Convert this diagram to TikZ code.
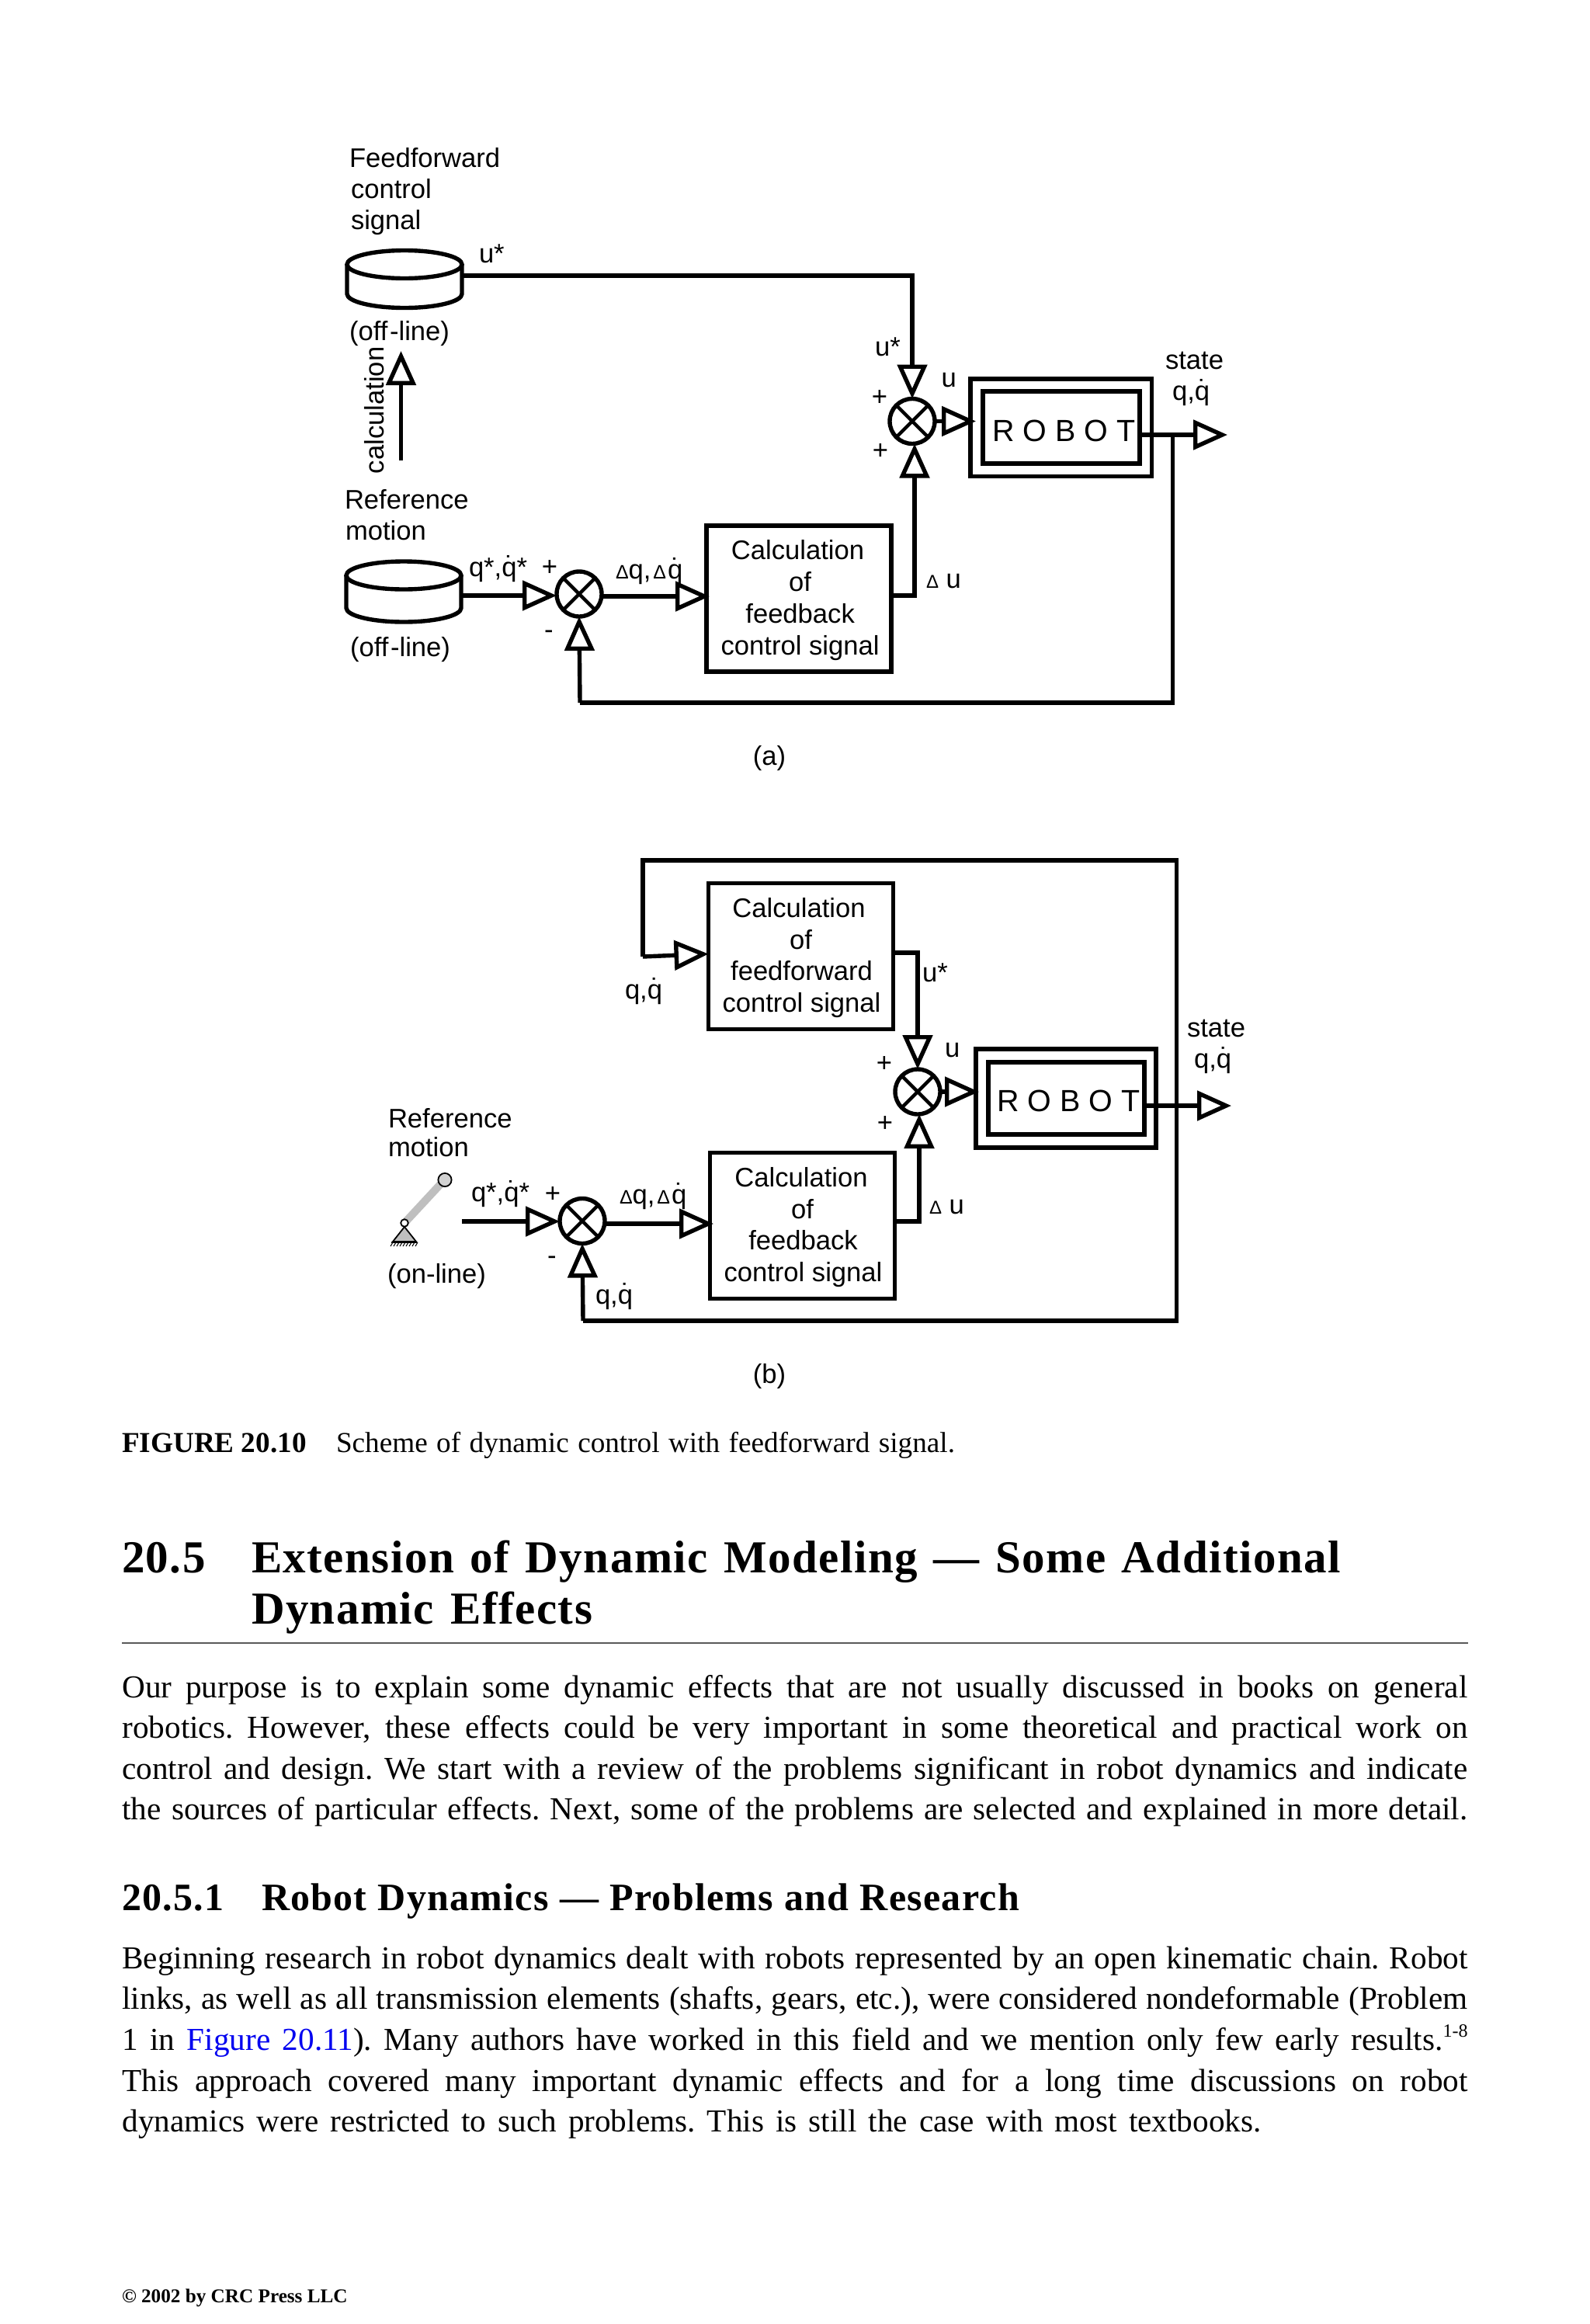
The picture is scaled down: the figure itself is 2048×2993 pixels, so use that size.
\documentclass[tikz,border=0pt]{standalone}
\usepackage{fontspec}
\setmainfont{Liberation Serif}
\setsansfont{Liberation Sans}
\newfontfamily\headfont[LetterSpace=2.5]{Liberation Serif}
\usetikzlibrary{arrows.meta}
\definecolor{linkblue}{RGB}{0,0,240}
\definecolor{mechgray}{gray}{0.75}
\newcommand\fitline[2]{\hbox to #1{\frenchspacing\spaceskip=.25em plus 1em minus .2em\relax #2}}
\newcommand\dq{\makebox[0pt][l]{\hspace{.12em}\raisebox{.03em}{˙}}q}
\newcommand\sdelta{{\fontsize{12.5pt}{12.5pt}\selectfont Δ}}
\newcommand\offl{(off\kern.08em-line)}
\newcommand\boxstrut{\rule{0pt}{.84em}}
\newcommand\cyl[5]{% cx, top y, bottom y (px), rx, ry (pt)
  \draw[wire,fill=white] (#1,#2) ellipse[x radius=#4pt,y radius=#5pt];
  \draw[wire] ([xshift=-#4pt]#1,#2) -- ([xshift=-#4pt]#1,#3) arc[start angle=180,end angle=360,x radius=#4pt,y radius=#5pt] -- ([xshift=#4pt]#1,#2);}
\newcommand\sumcross[1]{\draw[wire,line width=2.2pt] (#1.north east) -- (#1.south west) (#1.north west) -- (#1.south east);}
\tikzset{
  wire/.style={line width=2.7pt,line join=miter},
  tri/.style={wire,-{Triangle[fill=white,length=22pt,width=19pt,line width=2.7pt]}},
  sumj/.style={circle,draw,line width=2.7pt,minimum size=29pt,inner sep=0pt,outer sep=0pt,fill=white},
  blockbox/.style={draw,line width=2.7pt,inner sep=0pt,outer sep=0pt,minimum width=119pt,minimum height=94pt,align=center,font=\sffamily\fontsize{17.3pt}{20.4pt}\selectfont},
  robotouter/.style={draw,line width=2.7pt,inner sep=0pt,outer sep=0pt},
  robotinner/.style={draw,line width=2.8pt,inner sep=0pt,outer sep=0pt},
  robottext/.style={inner sep=0pt,anchor=base,font=\sffamily\fontsize{19.7pt}{22pt}\selectfont},
  lab/.style={inner sep=0pt,outer sep=0pt,anchor=base west,font=\sffamily\fontsize{17.3pt}{20pt}\selectfont},
  sgn/.style={inner sep=0pt,outer sep=0pt,anchor=center,font=\sffamily\fontsize{17.3pt}{20pt}\selectfont},
  bodyline/.style={inner sep=0pt,outer sep=0pt,anchor=base west,font=\rmfamily\fontsize{20.6pt}{26pt}\selectfont},
  caplabel/.style={inner sep=0pt,outer sep=0pt,anchor=base west,font=\rmfamily\bfseries\fontsize{18.6pt}{22pt}\selectfont},
  captext/.style={inner sep=0pt,outer sep=0pt,anchor=base west,font=\rmfamily\fontsize{18.6pt}{22pt}\selectfont},
  headline/.style={inner sep=0pt,outer sep=0pt,anchor=base west,font=\headfont\bfseries\fontsize{29.5pt}{33pt}\selectfont},
  subline/.style={inner sep=0pt,outer sep=0pt,anchor=base west,font=\headfont\bfseries\fontsize{25pt}{28pt}\selectfont},
  foot/.style={inner sep=0pt,outer sep=0pt,anchor=base west,font=\rmfamily\bfseries\fontsize{12.6pt}{15pt}\selectfont},
}
\begin{document}
\begin{tikzpicture}[x=0.5pt,y=-0.5pt]
\useasboundingbox[fill=white] (0,0) rectangle (2048,2993);

%%% ---------- diagram (a) ----------
\node[lab] (a1) at (450,215) {Feedforward};
\node[lab] (a2) at (452,255) {control};
\node[lab] (a3) at (452,295) {signal};
\cyl{521}{340.5}{378.5}{37}{9}
\coordinate (cylAout) at (596,355);
\node[lab] (a4) at (617,338) {u*};
\node[lab] (a5) at (450,438) {\offl};
\node[lab,rotate=90] (a6) at (494,610) {calculation};
\coordinate (calcS) at (516.5,593);
\coordinate (calcE) at (516.5,452);
\draw[tri] (calcS) -- (calcE);
\node[lab] (a7) at (444,655) {Reference};
\node[lab] (a8) at (445,695) {motion};
\cyl{520}{741}{783}{37}{9}
\coordinate (cylBout) at (594,767);
\node[lab] (a9) at (604,742) {q*,\dq*};
\node[sgn] (a10) at (708,732) {+};
\node[sgn] (a11) at (707,817) {-};
\node[lab] (a12) at (793,745) {\sdelta q,\kern.08em\sdelta\kern.06em\dq};
\node[lab] (a13) at (451,845) {\offl};

\node[sumj] (sumA) at (746,765) {};
\sumcross{sumA}
\node[sumj] (sumAr) at (1175,542.5) {};
\sumcross{sumAr}
\node[blockbox] (fbA) at (1029,771) {\boxstrut\hspace{-1.5pt}Calculation\\\hspace{1.6pt}of\\\hspace{1.6pt}feedback\\\hspace{1.6pt}control signal};
\node[robotouter,minimum width=116.7pt,minimum height=62.7pt] (robA) at (1366.7,550.5) {};
\node[robotinner,minimum width=101pt,minimum height=46.5pt] (robAi) at (1367,550.5) {};
\node[robottext] (robAt) at (1370.5,568) {R O B O T};

\draw[tri] (cylAout) -| (sumAr.north);
\draw[tri] (cylBout) -- (sumA.west |- cylBout);
\coordinate (fbAin) at (914,768);
\draw[tri] (sumA.east |- fbAin) -- (fbAin);
\draw[tri] (fbA.east |- cylBout) -| ([xshift=1.5pt]sumAr.south);
\coordinate (robAin) at (1257,542.5);
\draw[tri] (sumAr.east) -- (robAin);
\coordinate (outA) at (1581,560);
\coordinate (tapA) at (1510.5,560);
\coordinate (fbAc) at (747,905);
\draw[tri] (robAi.east |- outA) -- (outA);
\draw[wire] (tapA) |- (fbAc);
\draw[tri] (fbAc) -- (sumA.south);

\node[lab] (a14) at (1127,458) {u*};
\node[lab] (a15) at (1212.5,498) {u};
\node[sgn] (a16) at (1133,513) {+};
\node[sgn] (a17) at (1134,582) {+};
\node[lab] (a18) at (1501,475) {state};
\node[lab] (a19) at (1510,515) {q,\dq};
\node[lab] (a20) at (1193,757) {{\fontsize{12pt}{12pt}\selectfont Δ} u};
\node[lab,anchor=base] (a21) at (991,985) {(a)};

%%% ---------- diagram (b) ----------
\node[blockbox] (ffB) at (1031.5,1231.5) {\boxstrut\hspace{-2.5pt}Calculation\\of\\\hspace{1pt}feedforward\\\hspace{1pt}control signal};
\node[blockbox] (fbB) at (1033.5,1578.5) {\boxstrut\hspace{-1.5pt}Calculation\\of\\\hspace{1pt}feedback\\\hspace{1pt}control signal};
\node[sumj] (sumB) at (750,1572.5) {};
\sumcross{sumB}
\node[sumj] (sumBr) at (1182,1406) {};
\sumcross{sumBr}
\node[robotouter,minimum width=116pt,minimum height=63.5pt] (robB) at (1373,1414.5) {};
\node[robotinner,minimum width=100.5pt,minimum height=46.5pt] (robBi) at (1373.5,1414.5) {};
\node[robottext] (robBt) at (1376.5,1431) {R O B O T};

\coordinate (inB) at (595,1573);
\coordinate (tlB) at (828,1108);
\coordinate (blB) at (828,1232);
\coordinate (trB) at (1515.5,1108);
\coordinate (brB) at (1515.5,1701);
\coordinate (bfB) at (751,1701);
\coordinate (outB) at (1586,1424);
\coordinate (fbBin) at (919,1576);
\coordinate (robBin) at (1261,1406);
\draw[tri] (inB) -- (sumB.west |- inB);
\draw[tri] (sumB.east |- fbBin) -- (fbBin);
\draw[tri] (fbB.east |- inB) -| ([xshift=1pt]sumBr.south);
\draw[tri] ([yshift=2.2pt]ffB.east) -| (sumBr.north);
\draw[tri] (sumBr.east) -- (robBin);
\draw[tri] (robBi.east |- outB) -- (outB);
\draw[wire] (bfB) -- (brB) -- (trB) -- (tlB) -- (blB);
\draw[tri] (blB) -- ([yshift=1.5pt]ffB.west);
\draw[tri] (bfB) -- (sumB.south);

\node[lab] (b1) at (805,1286) {q,\dq};
\node[lab] (b2) at (1188,1264) {u*};
\node[lab] (b3) at (1217,1361) {u};
\node[sgn] (b4) at (1139,1370) {+};
\node[sgn] (b5) at (1140,1447) {+};
\node[lab] (b6) at (1529,1335) {state};
\node[lab] (b7) at (1538,1375) {q,\dq};
\node[lab] (b8) at (1197,1563) {{\fontsize{12pt}{12pt}\selectfont Δ} u};
\node[lab] (b9) at (500,1452) {Reference};
\node[lab] (b10) at (500,1489) {motion};
\node[lab] (b11) at (499,1652) {(on-line)};
\node[lab] (b12) at (607,1547) {q*,\dq*};
\node[sgn] (b13) at (712,1538) {+};
\node[sgn] (b14) at (711,1623) {-};
\node[lab] (b15) at (798,1550) {\sdelta q,\kern.08em\sdelta\kern.06em\dq};
\node[lab] (b16) at (767,1679) {q,\dq};
\node[lab,anchor=base] (b17) at (991,1781) {(b)};

% mechanism
\draw[mechgray,line width=5pt] (521,1575) -- (573,1519);
\draw[black,line width=0.9pt,fill=mechgray!70] (573,1519.5) circle[radius=4.3pt];
\draw[black,line width=0.9pt,fill=mechgray] (521,1580) -- (506,1599) -- (536,1599) -- cycle;
\draw[black,line width=0.9pt,fill=white] (521,1575) circle[radius=2.4pt];
\draw[black,line width=1pt] (504,1600) -- (537,1600);
\foreach \hx in {506,510,...,538} {\draw[black,line width=0.5pt] (\hx,1600) -- (\hx-3,1605);}

%%% ---------- page text ----------
\node[caplabel] (t1) at (157,1870) {FIGURE 20.10};
\node[captext] (t2) at (433,1870) {\fitline{398.5pt}{Scheme of dynamic control with feedforward signal.}};
\node[headline] (t3) at (157,2025) {20.5};
\node[headline] (t4) at (324,2025) {\fitline{701.5pt}{Extension of Dynamic Modeling — Some Additional}};
\node[headline] (t5) at (324,2091) {\fitline{219.5pt}{Dynamic Effects}};
\coordinate (ruleL) at (157,2116);
\coordinate (ruleR) at (1891,2116);
\draw[black!65,line width=1pt] (ruleL) -- (ruleR);

\node[bodyline] (p1) at (157.5,2186) {\fitline{866.5pt}{Our purpose is to explain some dynamic effects that are not usually discussed in books on general}};
\node[bodyline] (p2) at (157.5,2238.5) {\fitline{866.5pt}{robotics. However, these effects could be very important in some theoretical and practical work on}};
\node[bodyline] (p3) at (157.5,2291) {\fitline{866.5pt}{control and design. We start with a review of the problems significant in robot dynamics and indicate}};
\node[bodyline] (p4) at (157.5,2343) {\fitline{866.5pt}{the sources of particular effects. Next, some of the problems are selected and explained in more detail.}};

\node[subline] (t6) at (157,2460) {20.5.1};
\node[subline] (t7) at (337,2460) {\fitline{488pt}{Robot Dynamics — Problems and Research}};

\node[bodyline] (q1) at (157.5,2535.5) {\fitline{866.5pt}{Beginning research in robot dynamics dealt with robots represented by an open kinematic chain. Robot}};
\node[bodyline] (q2) at (157.5,2587.5) {\fitline{866.5pt}{links, as well as all transmission elements (shafts, gears, etc.), were considered nondeformable (Problem}};
\node[bodyline] (q3) at (157.5,2640) {\fitline{866.5pt}{1 in \textcolor{linkblue}{Figure 20.11}). Many authors have worked in this field and we mention only few early results.\raisebox{8.5pt}{\fontsize{12pt}{12pt}\selectfont 1-8}}};
\node[bodyline] (q4) at (157.5,2693) {\fitline{866.5pt}{This approach covered many important dynamic effects and for a long time discussions on robot}};
\node[bodyline] (q5) at (157.5,2745) {\fitline{733.5pt}{dynamics were restricted to such problems. This is still the case with most textbooks.}};

\node[foot] (f1) at (157,2965) {© 2002 by CRC Press LLC};
\end{tikzpicture}
\end{document}
